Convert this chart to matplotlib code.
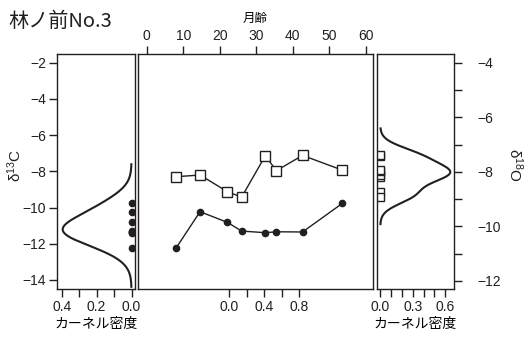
import numpy as np
import matplotlib
matplotlib.use("Agg")
import matplotlib.pyplot as plt
from matplotlib.ticker import MultipleLocator

# データ
month = [8.1, 14.6, 22.1, 26.0, 32.5, 35.5, 42.7, 53.6]
d13c = [-12.22, -10.23, -10.82, -11.30, -11.39, -11.34, -11.35, -9.77]
d18o = [-8.18, -8.12, -8.73, -8.93, -7.41, -7.96, -7.40, -7.94]

month_ticks = [0, 10, 20, 30, 40, 50, 60]
bottom_ticks = [0.0, 0.4, 0.8]
c_ticks = [-2, -4, -6, -8, -10, -12, -14]
o_ticks = [-4, -6, -8, -10, -12]

bw_c = 0.72
bw_o = 0.33

plt.rcParams['font.family'] = ['Liberation Sans', 'Noto Sans CJK JP']
plt.rcParams['mathtext.fontset'] = 'custom'
plt.rcParams['mathtext.rm'] = 'Liberation Sans'
plt.rcParams['mathtext.it'] = 'Liberation Sans'
plt.rcParams['font.size'] = 10

ink = '#231f20'
jp = ['Noto Sans CJK JP']


def kde(data, bw):
    data = np.asarray(data)
    grid = np.linspace(data.min() - 3 * bw, data.max() + 3 * bw, 400)
    z = (grid[:, None] - data[None, :]) / bw
    dens = np.exp(-0.5 * z ** 2).sum(axis=1) / (len(data) * bw * np.sqrt(2 * np.pi))
    return grid, dens


def style(ax):
    for s in ax.spines.values():
        s.set_linewidth(1.0)
        s.set_color(ink)
    ax.tick_params(which='both', length=6, width=1.0, color=ink,
                   labelcolor=ink, labelsize=10, pad=2)


fig = plt.figure(figsize=(5.29, 3.38), dpi=100)
H = 338.0
W = 529.0
bot = (H - 289) / H
hgt = (289 - 54) / H

ax_l = fig.add_axes([57 / W, bot, 78 / W, hgt])
ax_m = fig.add_axes([138 / W, bot, 235 / W, hgt])
ax_r = fig.add_axes([377 / W, bot, 77 / W, hgt])

# 中央の補助軸は先に作る（twiny が元の軸の目盛り位置を変えるため）
ax_m2 = ax_m.twinx()
ax_b = ax_m.twiny()

c_lim = (-14.5, -1.52)
o_lim = (-12.30, -3.68)

# 左：δ13C のカーネル密度
g, d = kde(d13c, bw_c)
ax_l.plot(d, g, color=ink, lw=1.5)
ax_l.plot([0] * len(d13c), d13c, 'o', color=ink, ms=4.5)
ax_l.set_xlim(0.427, -0.02)
ax_l.set_ylim(*c_lim)
ax_l.set_xticks([0.4, 0.2, 0.0])
ax_l.set_xticklabels(['0.4', '0.2', '0.0'])
ax_l.xaxis.set_minor_locator(MultipleLocator(0.1))
ax_l.set_yticks(c_ticks)
ax_l.set_yticklabels(['\u2212' + str(-t) for t in c_ticks])
ax_l.set_xlabel('カーネル密度', family=jp, fontsize=10, labelpad=2)
style(ax_l)

# 中央：時系列
ax_m.plot(month, d13c, '-o', color=ink, lw=1.0, ms=4.5)
ax_m.set_xlim(-2.4, 62.0)
ax_m.set_ylim(*c_lim)
ax_m.set_yticks([])
ax_m.xaxis.tick_top()
ax_m.xaxis.set_label_position('top')
ax_m.set_xticks(month_ticks)
ax_m.set_xlabel('月齢', family=jp, fontsize=9, labelpad=5)
style(ax_m)

ax_m2.plot(month, d18o, '-s', color=ink, lw=1.0, ms=7, mfc='white', mec=ink, mew=1.0)
ax_m2.set_ylim(*o_lim)
ax_m2.set_yticks([])
style(ax_m2)
for s in ax_m2.spines.values():
    s.set_visible(False)

ax_b.set_xlim(-1.048, 1.65)
ax_b.xaxis.tick_bottom()
ax_b.set_xticks(bottom_ticks)
ax_b.set_xticklabels(['0.0', '0.4', '0.8'])
ax_b.set_xticks([0.2, 0.6], minor=True)
ax_b.set_yticks([])
style(ax_b)
for s in ax_b.spines.values():
    s.set_visible(False)

# 右：δ18O のカーネル密度
g, d = kde(d18o, bw_o)
ax_r.plot(d, g, color=ink, lw=1.5)
ax_r.plot([0] * len(d18o), d18o, 's', color=ink, ms=6, mfc='white', mec=ink, mew=1.0)
ax_r.set_xlim(-0.03, 0.68)
ax_r.set_ylim(*o_lim)
ax_r.set_xticks([0.0, 0.3, 0.6])
ax_r.set_xticklabels(['0.0', '0.3', '0.6'])
ax_r.xaxis.set_minor_locator(MultipleLocator(0.1))
ax_r.yaxis.tick_right()
ax_r.set_yticks(o_ticks)
ax_r.set_yticklabels(['\u2212' + str(-t) for t in o_ticks])
ax_r.yaxis.set_minor_locator(MultipleLocator(1))
ax_r.set_xlabel('カーネル密度', family=jp, fontsize=10, labelpad=2)
style(ax_r)
ax_r.tick_params(axis='y', pad=11)

fig.text(15 / W, 1 - 165 / H, 'δ$^{13}$C', fontsize=11, color=ink,
         rotation=90, ha='center', va='center')
fig.text(515 / W, 1 - 165 / H, 'δ$^{18}$O', fontsize=11, color=ink,
         rotation=270, ha='center', va='center')
fig.text(8 / W, 1 - 21 / H, '林ノ前No.3', family=jp, fontsize=14.5, color=ink, va='center')

fig.savefig('out.png', dpi=100)
